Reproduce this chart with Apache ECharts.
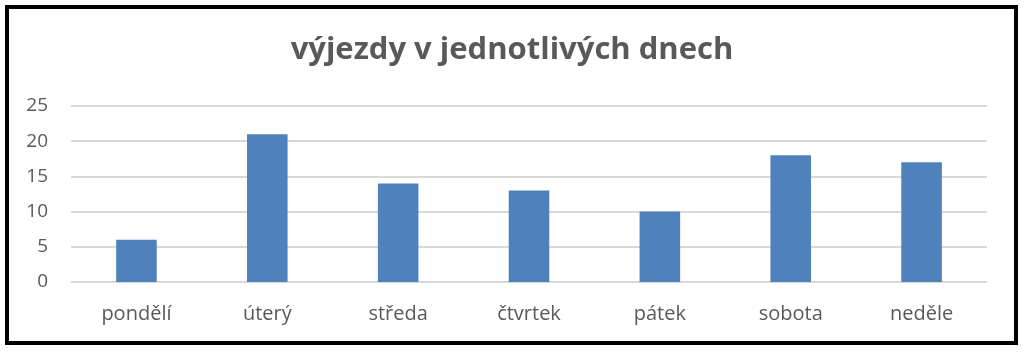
<!DOCTYPE html>
<html>
<head>
<meta charset="utf-8">
<script src="https://cdn.jsdelivr.net/npm/echarts@6/dist/echarts.min.js"></script>
<style>
html, body { margin: 0; padding: 0; background: #fff; }
#container { width: 1024px; height: 352px; }
</style>
</head>
<body>
<div id="container"></div>
<script>
var dom = document.getElementById("container");
var myChart = echarts.init(dom);

var days = ['pondělí', 'úterý', 'středa', 'čtvrtek', 'pátek', 'sobota', 'neděle'];
var vyjezdy = [6, 21, 14, 13, 10, 18, 17];
var yTicks = [0, 5, 10, 15, 20, 25];

var option = {
    textStyle: { fontFamily: 'Open Sans' },
    title: {
        text: 'výjezdy v jednotlivých dnech',
        left: 'center',
        top: 30,
        textStyle: {
            color: '#595959',
            fontSize: 31,
            fontWeight: 'bold',
            fontFamily: 'Open Sans'
        }
    },
    graphic: [{
        type: 'rect',
        shape: { x: 7, y: 7, width: 1009, height: 336 },
        style: { fill: 'none', stroke: '#000', lineWidth: 4 },
        silent: true
    }],
    grid: {
        left: 71,
        right: 37,
        top: 106,
        bottom: 70
    },
    xAxis: {
        type: 'category',
        data: days,
        axisLine: { show: false },
        axisTick: { show: false },
        axisLabel: {
            color: '#595959',
            fontSize: 20,
            margin: 22
        }
    },
    yAxis: {
        type: 'value',
        min: yTicks[0],
        max: yTicks[yTicks.length - 1],
        interval: 5,
        axisLine: { show: false },
        axisTick: { show: false },
        axisLabel: {
            color: '#595959',
            fontSize: 19,
            margin: 23
        },
        splitLine: {
            lineStyle: { color: '#d9d9d9', width: 2 }
        }
    },
    series: [{
        name: 'výjezdy',
        type: 'bar',
        barWidth: '31%',
        itemStyle: { color: '#4f81bd' },
        data: vyjezdy
    }]
};

myChart.setOption(option, true);
</script>
</body>
</html>
